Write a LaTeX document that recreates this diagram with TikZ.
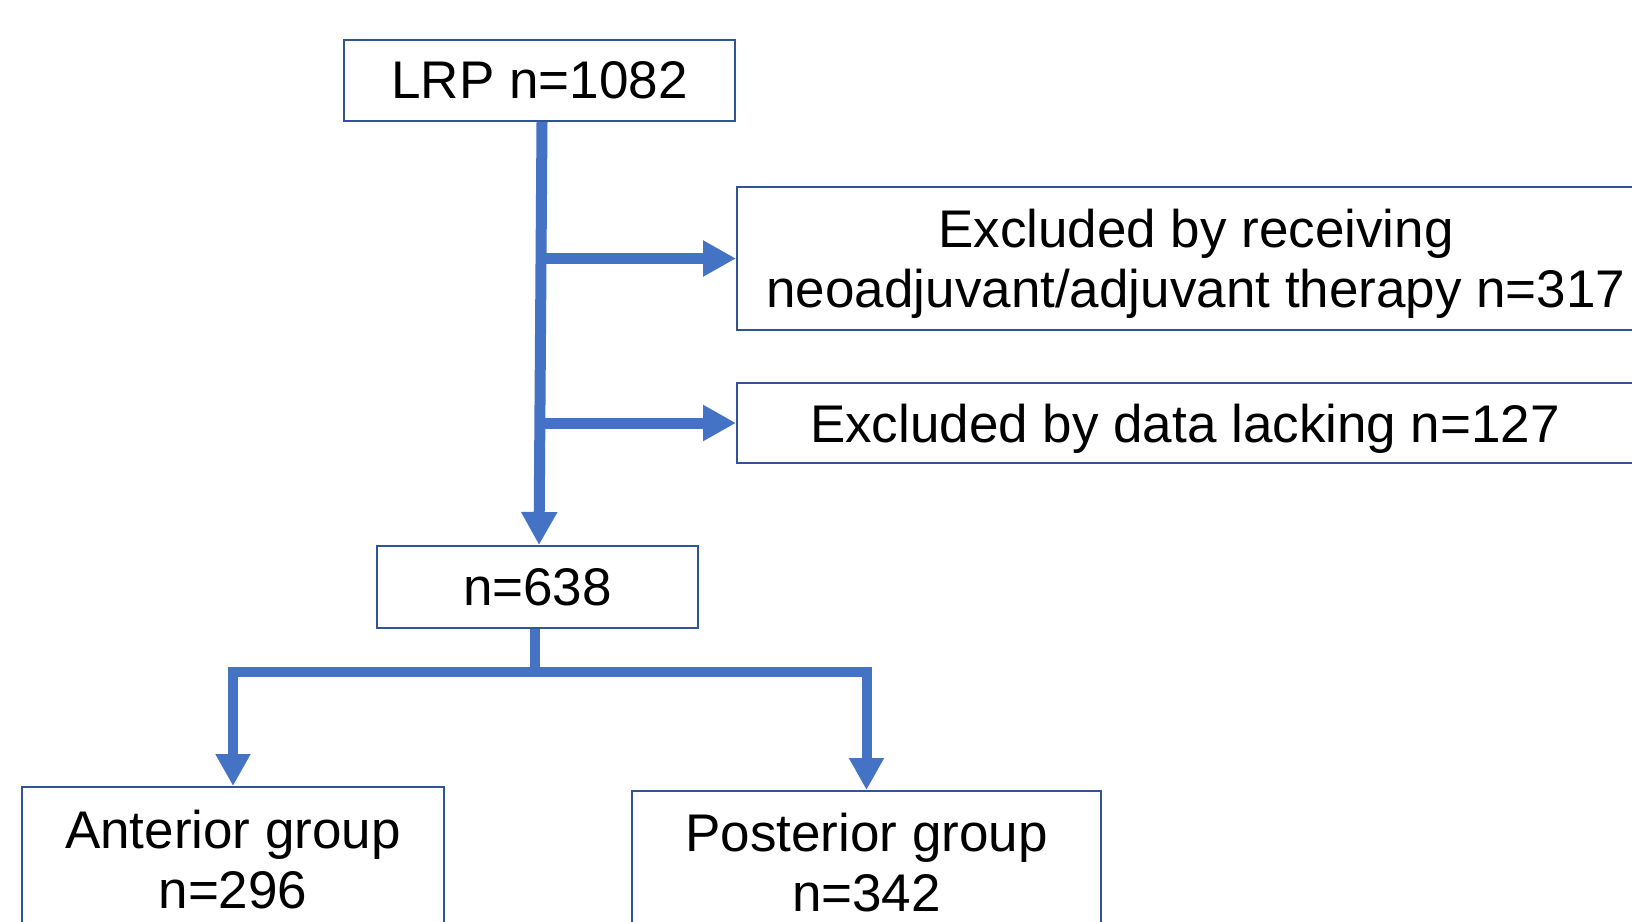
\documentclass[tikz,border=0pt]{standalone}
\usepackage{fontspec}
\setmainfont{Liberation Sans}
\usetikzlibrary{arrows.meta}
\definecolor{flow}{HTML}{4472C4}
\definecolor{boxline}{HTML}{2F5597}
\begin{document}
\begin{tikzpicture}[x=1pt,y=-1pt,
  box/.style={draw=boxline, line width=2pt, inner sep=0pt, align=center,
    font=\fontsize{53}{60}\selectfont, text=black},
  arr/.style={draw=flow, line width=11pt, line join=miter,
    -{Triangle[length=33pt,width=34pt]}},
  plain/.style={draw=flow, line width=10pt, line join=miter},
  arrlow/.style={draw=flow, line width=10pt, line join=miter,
    -{Triangle[length=32pt,width=33pt]}}]
\clip (0,0) rectangle (1632,921);
\fill[white] (0,0) rectangle (1632,921);
\node[box, minimum width=391pt, minimum height=81pt] (lrp) at (539.5,80.5) {LRP n=1082};
\node[box, minimum width=918pt, minimum height=143pt, text height=108.6pt] (ex1) at (1196,258.5) {Excluded by receiving\\neoadjuvant/adjuvant therapy n=317};
\node[box, minimum width=896pt, minimum height=80pt, text height=49pt] (ex2) at (1185,423) {Excluded by data lacking n=127};
\node[box, minimum width=321pt, minimum height=82pt] (n638) at (537.5,587) {n=638};
\node[box, minimum width=422pt, minimum height=146pt] (ant) at (233,860) {Anterior group\\n=296};
\node[box, minimum width=469pt, minimum height=144pt] (post) at (866.5,863) {Posterior group\\n=342};
\coordinate (tx) at (541,0);
\draw[arr] ([xshift=2.5pt]lrp.south) -- ([xshift=1.5pt]n638.north);
\draw[arr] (tx |- ex1.west) -- (ex1.west);
\draw[arr] (tx |- ex2.west) -- (ex2.west);
\coordinate (j) at (535,672);
\draw[plain] (n638.south -| j) -- (j);
\draw[arrlow] (j) -| (ant.north);
\draw[arrlow] (j) -| (post.north);
\end{tikzpicture}
\end{document}
